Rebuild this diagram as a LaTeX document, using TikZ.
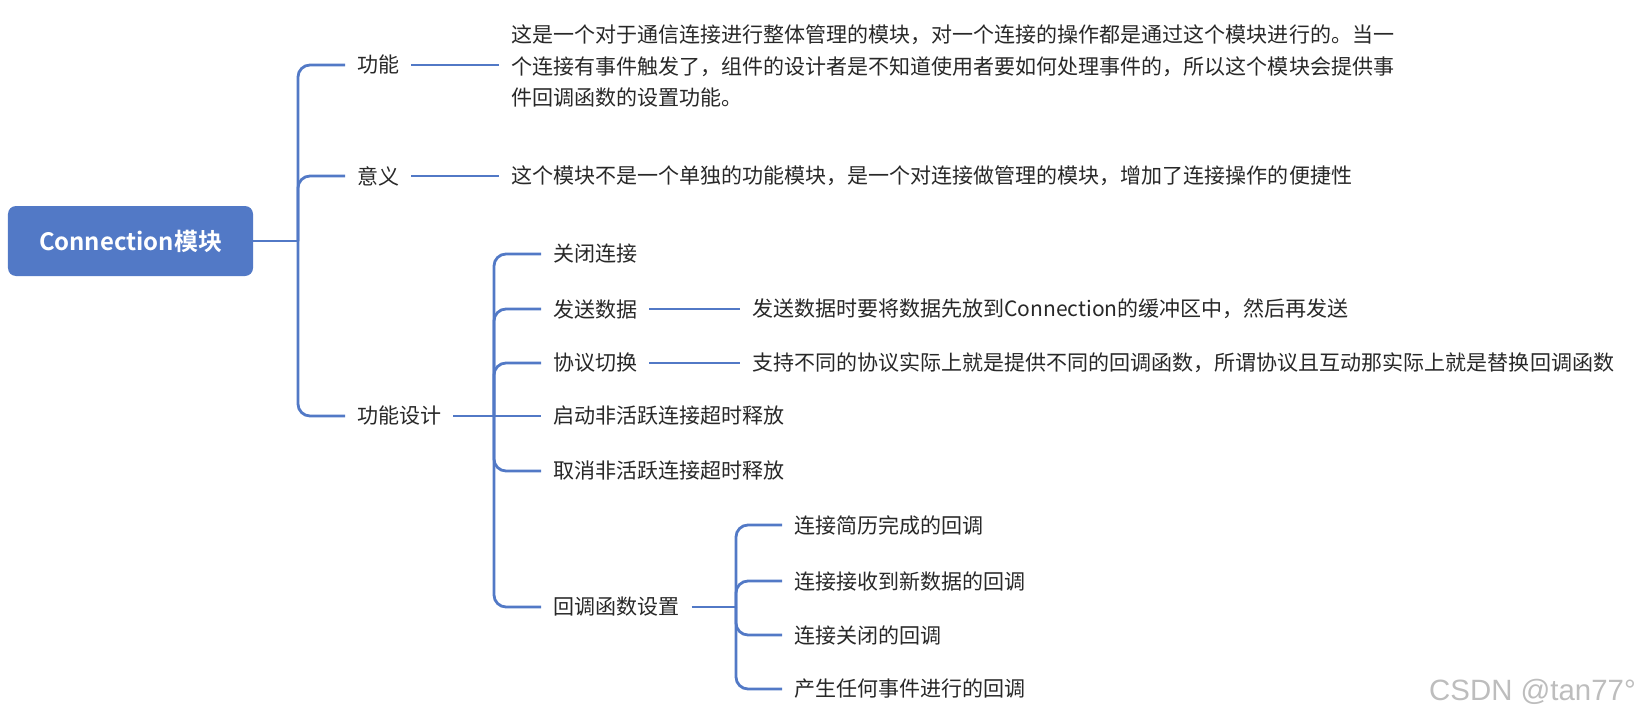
\documentclass[tikz,border=0pt]{standalone}
\usepackage{fontspec}
\setmainfont{Noto Sans CJK SC}[BoldFont={Noto Sans CJK SC Bold}]
\newfontfamily\wmfont{Liberation Sans}
\definecolor{mmblue}{RGB}{82,121,198}
\definecolor{txt}{RGB}{40,40,40}
\begin{document}
\begin{tikzpicture}[x=1bp,y=-1bp,
  conn/.style={draw=mmblue, line width=2.8bp, rounded corners=12bp},
  lbl/.style={anchor=west, inner xsep=12bp, inner ysep=0pt, font=\fontsize{21.1}{32}\selectfont, text=txt},
  desc/.style={lbl, align=left},
  rootbox/.style={fill=mmblue, rounded corners=8bp, minimum width=245bp, minimum height=70bp, text=white, inner sep=0pt, font=\fontsize{24}{28}\selectfont\bfseries}]
\useasboundingbox (0,0) rectangle (1640,724);
\node[rootbox] (root) at (130.5,241) {Connection模块};
\coordinate (t0) at (298,241);
\node[lbl] (gn) at (345,65) {功能};
\node[lbl] (yy) at (345,176) {意义};
\node[lbl] (gs) at (345,416) {功能设计};
\node[desc] (gnd) at (499,66) {这是一个对于通信连接进行整体管理的模块，对一个连接的操作都是通过这个模块进行的。当一\\个连接有事件触发了，组件的设计者是不知道使用者要如何处理事件的，所以这个模块会提供事\\件回调函数的设置功能。};
\node[desc] (yyd) at (499,176) {这个模块不是一个单独的功能模块，是一个对连接做管理的模块，增加了连接操作的便捷性};
\coordinate (t1) at (494,416);
\node[lbl] (s1) at (541,254) {关闭连接};
\node[lbl] (s2) at (541,309) {发送数据};
\node[lbl] (s3) at (541,363) {协议切换};
\node[lbl] (s4) at (541,416) {启动非活跃连接超时释放};
\node[lbl] (s5) at (541,471) {取消非活跃连接超时释放};
\node[lbl] (s6) at (541,607) {回调函数设置};
\node[lbl] (s2d) at (740,309) {发送数据时要将数据先放到Connection的缓冲区中，然后再发送};
\node[lbl] (s3d) at (740,363) {支持不同的协议实际上就是提供不同的回调函数，所谓协议且互动那实际上就是替换回调函数};
\coordinate (t2) at (736,607);
\node[lbl] (c1) at (782,525) {连接简历完成的回调};
\node[lbl] (c2) at (782,581) {连接接收到新数据的回调};
\node[lbl] (c3) at (782,635) {连接关闭的回调};
\node[lbl] (c4) at (782,689) {产生任何事件进行的回调};
\node[anchor=east, inner sep=0pt, font=\wmfont\fontsize{29.5}{34}\selectfont, text=black!26] (wm) at (1636,692) {CSDN @tan77°};
\draw[conn] (root.east) -- (t0);
\draw[conn] (t0) |- (gn.west);
\draw[conn] (t0) |- (yy.west);
\draw[conn] (t0) |- (gs.west);
\draw[conn] (gn.east) -- (gn.east -| gnd.west);
\draw[conn] (yy.east) -- (yy.east -| yyd.west);
\draw[conn] (gs.east) -- (t1);
\draw[conn] (t1) |- (s1.west);
\draw[conn] (t1) |- (s2.west);
\draw[conn] (t1) |- (s3.west);
\draw[conn] (t1) -- (s4.west);
\draw[conn] (t1) |- (s5.west);
\draw[conn] (t1) |- (s6.west);
\draw[conn] (s2.east) -- (s2d.west);
\draw[conn] (s3.east) -- (s3d.west);
\draw[conn] (s6.east) -- (t2);
\draw[conn] (t2) |- (c1.west);
\draw[conn] (t2) |- (c2.west);
\draw[conn] (t2) |- (c3.west);
\draw[conn] (t2) |- (c4.west);
\end{tikzpicture}
\end{document}
